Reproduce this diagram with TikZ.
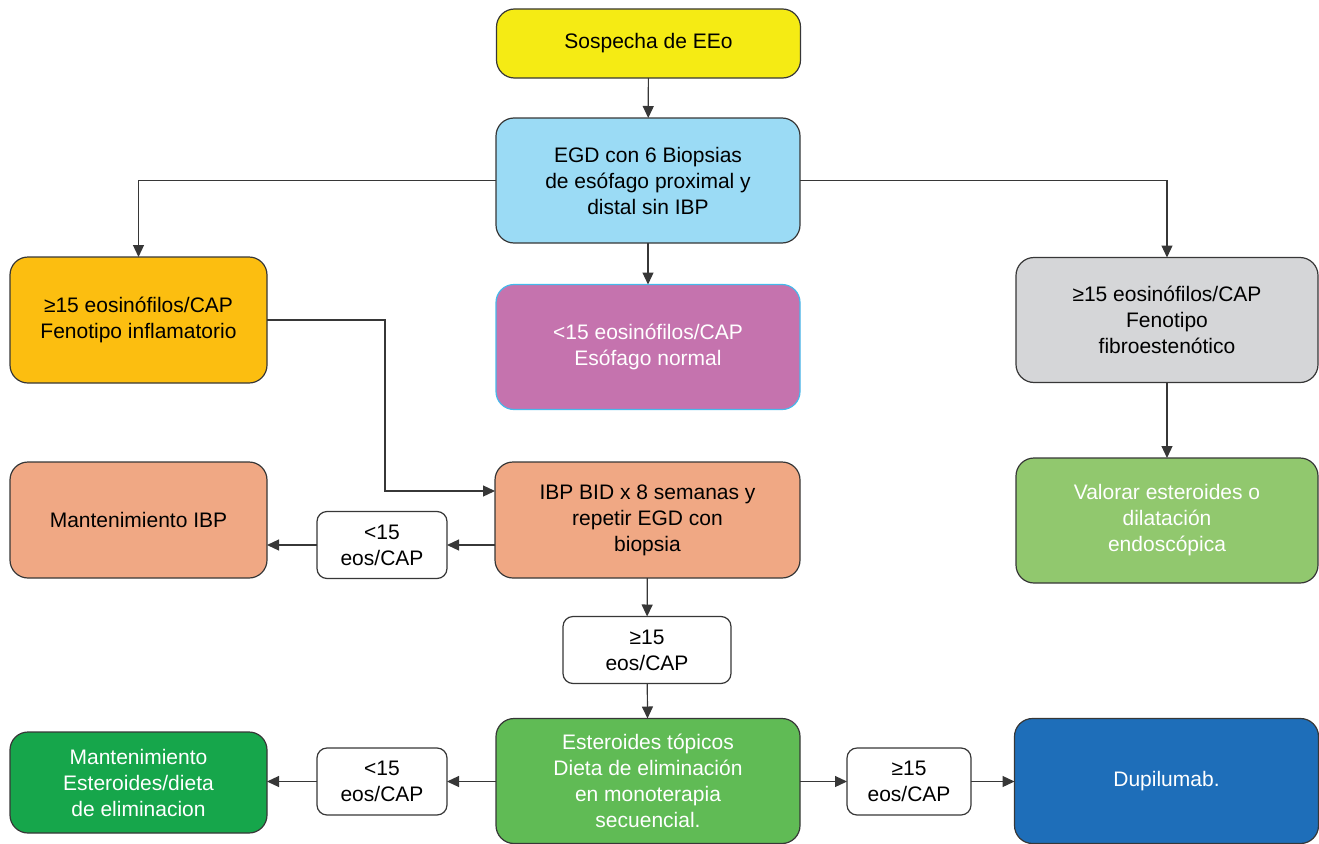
\documentclass[tikz,border=0pt]{standalone}
\usepackage{fontspec}
\setmainfont{Liberation Sans}
\usetikzlibrary{arrows.meta}
% box fills
\definecolor{eeoYellow}{RGB}{245,235,20}
\definecolor{eeoSky}{RGB}{155,219,245}
\definecolor{eeoAmber}{RGB}{252,190,16}
\definecolor{eeoPink}{RGB}{197,115,174}
\definecolor{eeoPinkLine}{RGB}{70,185,235}
\definecolor{eeoGrey}{RGB}{213,214,216}
\definecolor{eeoSalmon}{RGB}{240,168,132}
\definecolor{eeoLeaf}{RGB}{145,200,110}
\definecolor{eeoGreen}{RGB}{96,187,85}
\definecolor{eeoDeep}{RGB}{22,166,75}
\definecolor{eeoBlue}{RGB}{30,110,185}
\definecolor{eeoLine}{RGB}{55,55,55}
\begin{document}
\begin{tikzpicture}[x=1pt, y=-1pt,
  box/.style={draw=eeoLine, line width=1.2pt, rounded corners=18pt, align=center,
    inner sep=0pt, outer sep=0pt, font=\fontsize{21}{26}\selectfont},
  bigbox/.style={box, minimum width=304pt, minimum height=125pt},
  sidebox/.style={box, minimum width=257pt, minimum height=126pt},
  tag/.style={box, fill=white, rounded corners=10pt, minimum width=130pt, minimum height=67pt},
  link/.style={draw=eeoLine, line width=1.2pt, -{Triangle[length=12pt,width=11pt]}}]
\useasboundingbox (0,0) rectangle (1319,843);
% first rows
\node[bigbox, fill=eeoYellow, minimum height=69pt] (sospecha) at (648.5,43.5) {Sospecha de EEo};
\node[bigbox, fill=eeoSky] (egd) at (648,180.5) {EGD con 6 Biopsias\\de esófago proximal y\\distal sin IBP};
\node[sidebox, fill=eeoAmber] (inflam) at (138.5,320) {≥15 eosinófilos/CAP\\Fenotipo inflamatorio};
\node[bigbox, fill=eeoPink, draw=eeoPinkLine, text=white] (normal) at (648,347) {<15 eosinófilos/CAP\\Esófago normal};
\node[bigbox, fill=eeoGrey, minimum width=302pt] (fibro) at (1167,320) {≥15 eosinófilos/CAP\\Fenotipo\\fibroestenótico};
% second rows
\node[sidebox, fill=eeoSalmon, minimum height=116pt] (mantibp) at (138.5,520) {Mantenimiento IBP};
\node[bigbox, fill=eeoSalmon, minimum width=305pt, minimum height=116pt] (ibpbid) at (647.5,520) {IBP BID x 8 semanas y\\repetir EGD con\\biopsia};
\node[tag] (menos1) at (382,545) {<15\\eos/CAP};
\node[bigbox, fill=eeoLeaf, text=white, minimum width=302pt] (valorar) at (1167,520.5) {Valorar esteroides o\\dilatación\\endoscópica};
\node[tag, minimum width=168pt] (mas1) at (647,650) {≥15\\eos/CAP};
% last row
\node[bigbox, fill=eeoGreen, text=white] (esteroides) at (648,781) {Esteroides tópicos\\Dieta de eliminación\\en monoterapia\\secuencial.};
\node[sidebox, fill=eeoDeep, text=white, minimum height=101pt] (mantest) at (138.5,782.5) {Mantenimiento\\Esteroides/dieta\\de eliminacion};
\node[tag] (menos2) at (382,781.5) {<15\\eos/CAP};
\node[tag, minimum width=124pt] (mas2) at (909,781.5) {≥15\\eos/CAP};
\node[bigbox, fill=eeoBlue, text=white] (dupi) at (1166.5,781) {Dupilumab.};
% connectors
\coordinate (bend) at (385,491);
\draw[link] (sospecha) -- (egd);
\draw[link] (egd.west) -| (inflam.north);
\draw[link] (egd.east) -| (fibro.north);
\draw[link] (egd) -- (normal);
\draw[link] (inflam.east) -| (bend) -- (bend -| ibpbid.west);
\draw[link] (ibpbid.west |- menos1) -- (menos1);
\draw[link] (menos1) -- (mantibp.east |- menos1);
\draw[link] (fibro) -- (valorar);
\draw[link] (ibpbid) -- (mas1);
\draw[link] (mas1) -- (esteroides);
\draw[link] (esteroides.west |- menos2) -- (menos2);
\draw[link] (menos2) -- (mantest.east |- menos2);
\draw[link] (esteroides.east |- mas2) -- (mas2);
\draw[link] (mas2) -- (dupi.west |- mas2);
\end{tikzpicture}
\end{document}
